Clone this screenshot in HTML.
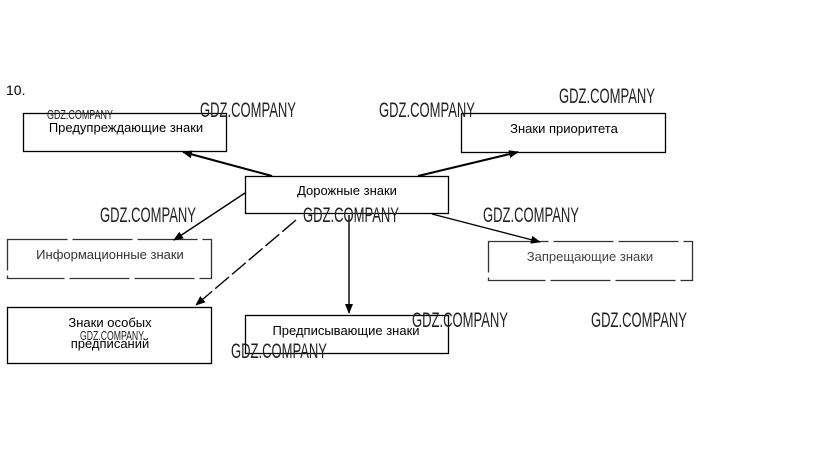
<!DOCTYPE html>
<html><head><meta charset="utf-8"><style>
html,body{margin:0;padding:0;background:#fff;}
</style></head><body>
<svg width="823" height="475" viewBox="0 0 823 475" xmlns="http://www.w3.org/2000/svg" style="display:block">
<defs>
<marker id="a" markerWidth="10" markerHeight="8" refX="9" refY="4" orient="auto" markerUnits="userSpaceOnUse">
<path d="M0,0 L10,4 L0,8 Z" fill="#000"/></marker>
</defs>
<rect width="823" height="475" fill="#fff"/>
<g font-family="Liberation Sans, sans-serif" font-size="13" fill="#000">
<text x="6" y="95" font-size="14">10.</text>
</g>
<g fill="none" stroke="#000" stroke-width="1.3">
<rect x="23.5" y="113.5" width="203" height="38"/>
<rect x="461.5" y="113.5" width="204" height="39"/>
<rect x="245.5" y="176.5" width="203" height="37"/>
<rect x="7.5" y="239.5" width="204" height="39" stroke="#333" stroke-dasharray="60,5"/>
<rect x="488.5" y="241.5" width="204" height="39" stroke="#333" stroke-dasharray="60,5"/>
<rect x="7.5" y="307.5" width="204" height="56"/>
<rect x="245.5" y="315.5" width="203" height="38"/>
</g>
<g stroke="#000" stroke-width="1.4" fill="none">
<line x1="272" y1="176" x2="183" y2="152" marker-end="url(#a)" stroke-width="2"/>
<line x1="418" y1="176" x2="518" y2="152" marker-end="url(#a)" stroke-width="2"/>
<line x1="245" y1="193" x2="174" y2="240" marker-end="url(#a)"/>
<line x1="296" y1="220" x2="196" y2="305" marker-end="url(#a)" stroke-dasharray="18,4"/>
<line x1="349" y1="215" x2="349" y2="313" marker-end="url(#a)"/>
<line x1="432" y1="214" x2="540" y2="242" marker-end="url(#a)"/>
</g>
<g font-family="Liberation Sans, sans-serif" font-size="13" fill="#000" text-anchor="middle">
<text x="126" y="132">Предупреждающие знаки</text>
<text x="564" y="133">Знаки приоритета</text>
<text x="347" y="195">Дорожные знаки</text>
<text x="110" y="259" fill="#333">Информационные знаки</text>
<text x="590" y="261" fill="#444">Запрещающие знаки</text>
<text x="110" y="327">Знаки особых</text>
<text x="110" y="348">предписаний</text>
<text x="346" y="335">Предписывающие знаки</text>
</g>
<g font-family="Liberation Sans Narrow, Liberation Sans, sans-serif" font-size="21" fill="#222">
<text x="200" y="117" textLength="96" lengthAdjust="spacingAndGlyphs">GDZ.COMPANY</text>
<text x="379" y="117" textLength="96" lengthAdjust="spacingAndGlyphs">GDZ.COMPANY</text>
<text x="559" y="103" textLength="96" lengthAdjust="spacingAndGlyphs">GDZ.COMPANY</text>
<text x="100" y="222" textLength="96" lengthAdjust="spacingAndGlyphs">GDZ.COMPANY</text>
<text x="303" y="222" textLength="96" lengthAdjust="spacingAndGlyphs">GDZ.COMPANY</text>
<text x="483" y="222" textLength="96" lengthAdjust="spacingAndGlyphs">GDZ.COMPANY</text>
<text x="412" y="327" textLength="96" lengthAdjust="spacingAndGlyphs">GDZ.COMPANY</text>
<text x="591" y="327" textLength="96" lengthAdjust="spacingAndGlyphs">GDZ.COMPANY</text>
<text x="231" y="358" textLength="96" lengthAdjust="spacingAndGlyphs">GDZ.COMPANY</text>
<text x="47" y="119" font-size="13" textLength="66" lengthAdjust="spacingAndGlyphs">GDZ.COMPANY</text>
<text x="80" y="340" font-size="13" textLength="64" lengthAdjust="spacingAndGlyphs">GDZ.COMPANY</text>
</g>
</svg>
</body></html>
